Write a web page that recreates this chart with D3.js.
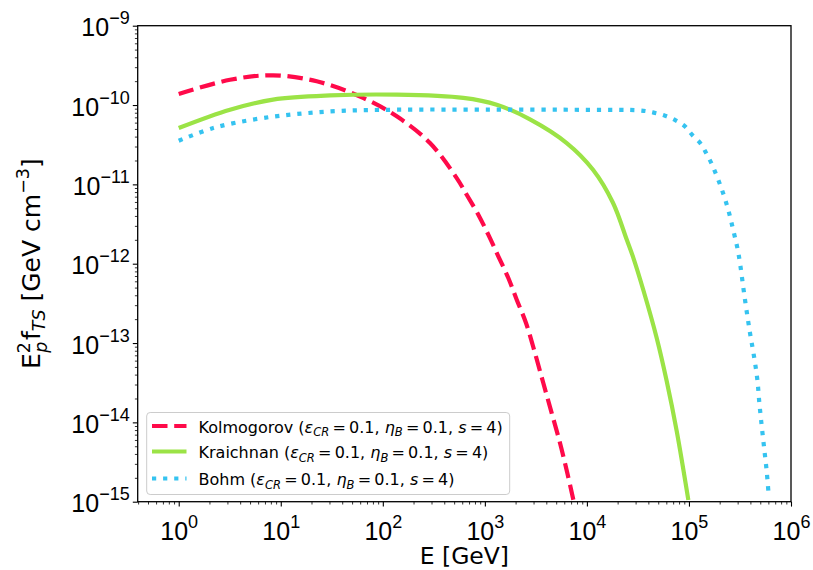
<!DOCTYPE html>
<html>
<head>
<meta charset="utf-8">
<script src="https://cdn.jsdelivr.net/npm/d3@7"></script>
<style>
  html, body { margin: 0; padding: 0; background: #fff; }
  svg { display: block; font-family: "DejaVu Sans", sans-serif; }
</style>
</head>
<body>
<svg id="chart" width="813" height="570"></svg>
<script>
// Spectra E_p^2 f_TS [GeV cm^-3] versus proton energy E [GeV]
const kolmogorovE = [1, 3.18, 8.4, 22.5, 64, 137, 290, 530, 664, 863, 1081, 1355, 1698, 2052, 2531, 3097, 3738, 4519, 5450, 6427, 7362];
const kolmogorovF = [1.38e-10, 2.08e-10, 2.37e-10, 1.99e-10, 1.23e-10, 7.2e-11, 3.32e-11, 1.2e-11, 7.4e-12, 4.15e-12, 2.32e-12, 1.24e-12, 6.6e-13, 3.52e-13, 1.79e-13, 7.5e-14, 3.13e-14, 1.31e-14, 5.5e-15, 2.3e-15, 1.06e-15];

const kraichnanE = [1, 3.18, 8.4, 30.4, 137, 615, 1306, 2768, 6340, 11480, 18000, 24600, 28300, 35700, 48300, 60500, 75800, 98600];
const kraichnanF = [5.13e-11, 8.73e-11, 1.17e-10, 1.32e-10, 1.35e-10, 1.23e-10, 1.01e-10, 6.6e-11, 3.32e-11, 1.53e-11, 5.87e-12, 2.0e-12, 1.22e-12, 4.66e-13, 1.16e-13, 3.32e-14, 7.8e-15, 1.05e-15];

const bohmE = [1, 2.18, 6.75, 30.4, 137, 1000, 10000, 33100, 44200, 58200, 74100, 91400, 107000, 131000, 149000, 167000, 205000, 240000, 272000, 305000, 354000, 396000, 434000, 468000, 489000, 516000, 547000, 578000, 604000];
const bohmF = [3.55e-11, 5.13e-11, 6.87e-11, 8.3e-11, 8.73e-11, 8.75e-11, 8.7e-11, 8.55e-11, 8.07e-11, 7.34e-11, 6.4e-11, 5.38e-11, 4.23e-11, 3.23e-11, 2.42e-11, 1.81e-11, 9.4e-12, 5.03e-12, 2.63e-12, 1.36e-12, 3.52e-13, 1.35e-13, 6.8e-14, 3.45e-14, 1.79e-14, 9.1e-15, 4.6e-15, 2.41e-15, 1.22e-15];

const xTickExps = [0, 1, 2, 3, 4, 5, 6];
const yTickExps = [-9, -10, -11, -12, -13, -14, -15];

const seriesNames = ["Kolmogorov", "Kraichnan", "Bohm"];
const seriesColors = ["#ff0a4a", "#9be346", "#35c3f0"];

const series = [
  { name: seriesNames[0], E: kolmogorovE, F: kolmogorovF, color: seriesColors[0], dash: "15.5,6.7" },
  { name: seriesNames[1], E: kraichnanE, F: kraichnanF, color: seriesColors[1], dash: null },
  { name: seriesNames[2], E: bohmE, F: bohmF, color: seriesColors[2], dash: "4.2,6.9" }
];

const svg = d3.select("#chart");
const plot = { left: 137.7, right: 791, top: 25.7, bottom: 501.7 };

const x = d3.scaleLog().domain([Math.pow(10, -0.402), 1e6]).range([plot.left, plot.right]);
const y = d3.scaleLog().domain([1e-15, 1e-9]).range([plot.bottom, plot.top]);

svg.append("defs").append("clipPath").attr("id", "plotClip")
  .append("rect")
  .attr("x", plot.left).attr("y", plot.top)
  .attr("width", plot.right - plot.left).attr("height", plot.bottom - plot.top);

// Curves
const line = d3.line()
  .x(d => x(d[0]))
  .y(d => y(d[1]))
  .curve(d3.curveCatmullRom.alpha(0.5));

const curves = svg.append("g").attr("clip-path", "url(#plotClip)");
series.forEach(s => {
  const pts = s.E.map((e, i) => [e, s.F[i]]);
  curves.append("path")
    .attr("d", line(pts))
    .attr("fill", "none")
    .attr("stroke", s.color)
    .attr("stroke-width", 4.2)
    .attr("stroke-dasharray", s.dash)
    .attr("stroke-linecap", "butt");
});

// Axes: minor ticks
const xMinor = [];
for (let p = -1; p < 6; p++) for (let m = 2; m <= 9; m++) {
  const v = m * Math.pow(10, p);
  if (v >= x.domain()[0] && v <= 1e6) xMinor.push(v);
}
const yMinor = [];
for (let p = -15; p < -9; p++) for (let m = 2; m <= 9; m++) yMinor.push(m * Math.pow(10, p));

svg.append("g")
  .attr("transform", `translate(0,${plot.bottom})`)
  .call(d3.axisBottom(x).tickValues(xMinor).tickSize(2.8).tickFormat(""))
  .call(g => g.select(".domain").remove())
  .call(g => g.selectAll("line").attr("stroke", "#000").attr("stroke-width", 0.8));

svg.append("g")
  .attr("transform", `translate(${plot.left},0)`)
  .call(d3.axisLeft(y).tickValues(yMinor).tickSize(2.8).tickFormat(""))
  .call(g => g.select(".domain").remove())
  .call(g => g.selectAll("line").attr("stroke", "#000").attr("stroke-width", 0.8));

// Major ticks with power-of-ten labels
const xAxis = svg.append("g")
  .attr("transform", `translate(0,${plot.bottom})`)
  .call(d3.axisBottom(x).tickValues(xTickExps.map(e => Math.pow(10, e))).tickSize(4.9).tickFormat(""))
  .call(g => g.select(".domain").remove())
  .call(g => g.selectAll("line").attr("stroke", "#000").attr("stroke-width", 1.1));

xAxis.selectAll(".tick").each(function (d, i) {
  const t = d3.select(this).append("text")
    .attr("fill", "#000").attr("y", 38).attr("text-anchor", "middle")
    .attr("font-size", 25).attr("x", 0);
  t.append("tspan").text("10");
  t.append("tspan").attr("dy", -12).attr("font-size", 18).text(String(xTickExps[i]).replace("-", "\u2212"));
});

const yAxis = svg.append("g")
  .attr("transform", `translate(${plot.left},0)`)
  .call(d3.axisLeft(y).tickValues(yTickExps.map(e => Math.pow(10, e))).tickSize(4.9).tickFormat(""))
  .call(g => g.select(".domain").remove())
  .call(g => g.selectAll("line").attr("stroke", "#000").attr("stroke-width", 1.1));

yAxis.selectAll(".tick").each(function (d, i) {
  const t = d3.select(this).append("text")
    .attr("fill", "#000").attr("x", -8).attr("y", 10).attr("text-anchor", "end")
    .attr("font-size", 25);
  t.append("tspan").text("10");
  t.append("tspan").attr("dy", -12).attr("font-size", 18).text(String(yTickExps[i]).replace("-", "\u2212"));
});

// Frame
svg.append("rect")
  .attr("x", plot.left).attr("y", plot.top)
  .attr("width", plot.right - plot.left).attr("height", plot.bottom - plot.top)
  .attr("fill", "none").attr("stroke", "#000").attr("stroke-width", 1.3);

// Axis labels
svg.append("text")
  .attr("x", (plot.left + plot.right) / 2).attr("y", 564)
  .attr("text-anchor", "middle").attr("font-size", 23.5)
  .text("E [GeV]");

const yl = svg.append("text")
  .attr("transform", `translate(40,${(plot.top + plot.bottom) / 2}) rotate(-90)`)
  .attr("text-anchor", "middle").attr("font-size", 25);
yl.append("tspan").text("E");
yl.append("tspan").attr("font-size", 17.5).attr("dy", -10).text("2");
yl.append("tspan").attr("font-size", 17.5).attr("font-style", "italic").attr("dx", -10.5).attr("dy", 17).text("p");
yl.append("tspan").attr("dy", -7).attr("dx", 1.5).text("f");
yl.append("tspan").attr("font-size", 17.5).attr("font-style", "italic").attr("dy", 5).text("TS");
yl.append("tspan").attr("dy", -5).text(" [GeV cm");
yl.append("tspan").attr("font-size", 17.5).attr("dy", -11).text("\u22123");
yl.append("tspan").attr("dy", 11).text("]");

// Legend
const legend = svg.append("g");
legend.append("rect")
  .attr("x", 146.7).attr("y", 412.5).attr("width", 363).attr("height", 82)
  .attr("rx", 3.5).attr("fill", "#fff").attr("fill-opacity", 0.8)
  .attr("stroke", "#cccccc").attr("stroke-width", 1);

const rowY = [426, 451.5, 478.5];
const eq = "\u2009=\u20090.1, ";
series.forEach((s, i) => {
  legend.append("line")
    .attr("x1", 152).attr("x2", 186.5).attr("y1", rowY[i]).attr("y2", rowY[i])
    .attr("stroke", s.color).attr("stroke-width", 4.2)
    .attr("stroke-dasharray", s.dash);
  const t = legend.append("text")
    .attr("x", 198.5).attr("y", rowY[i] + 6.5).attr("font-size", 16).attr("fill", "#000");
  t.append("tspan").text(s.name + " (");
  t.append("tspan").attr("font-style", "italic").text("\u03b5");
  t.append("tspan").attr("font-style", "italic").attr("font-size", 11.5).attr("dy", 3.5).text("CR");
  t.append("tspan").attr("dy", -3.5).text(eq);
  t.append("tspan").attr("font-style", "italic").text("\u03b7");
  t.append("tspan").attr("font-style", "italic").attr("font-size", 11.5).attr("dy", 3.5).text("B");
  t.append("tspan").attr("dy", -3.5).text(eq);
  t.append("tspan").attr("font-style", "italic").text("s");
  t.append("tspan").text("\u2009=\u20094)");
});
</script>
</body>
</html>
